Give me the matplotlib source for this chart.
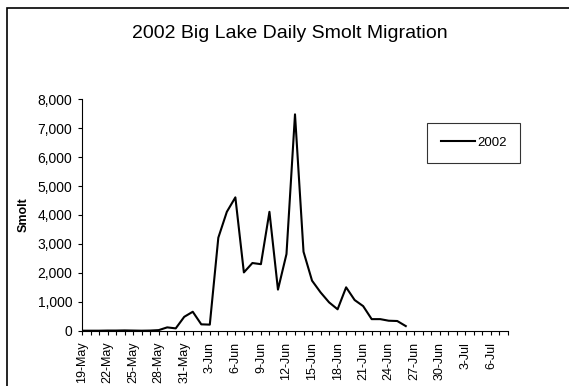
import numpy as np
import pandas as pd
import matplotlib
matplotlib.use("Agg")
import matplotlib.pyplot as plt
from matplotlib.patches import Rectangle
from matplotlib.ticker import FuncFormatter

plt.rcParams['font.family'] = ['Liberation Sans', 'DejaVu Sans']

# categories: one per day, 19-May to 8-Jul 2002
dates = pd.date_range("2002-05-19", "2002-07-08", freq="D")
date_labels = [f"{d.day}-{d.strftime('%b')}" for d in dates]

# daily smolt counts, 19-May .. 26-Jun
smolt_2002 = [0, 0, 0, 5, 5, 10, 5, 0, 5, 20,
              115, 80, 480, 655, 220, 210, 3215, 4110, 4610, 2015,
              2340, 2300, 4110, 1420, 2650, 7480, 2730, 1730, 1325, 980,
              740, 1500, 1060, 850, 400, 400, 345, 335, 160]

title = "2002 Big Lake Daily Smolt Migration"
series_name = "2002"
y_ticks = list(range(0, 8001, 1000))

W, H = 569, 386
fig = plt.figure(figsize=(W / 100, H / 100), dpi=100)
ax = fig.add_axes([82 / W, 1 - 330.7 / H, (508 - 82) / W, (330.7 - 99.3) / H])

x = np.arange(len(smolt_2002))
ax.plot(x, smolt_2002, color="black", lw=1.5, label=series_name)

ax.set_xlim(0, len(dates) - 1)
ax.set_ylim(0, 8000)
ax.set_xticks(np.arange(len(dates)))
ax.set_xticklabels([lab if i % 3 == 0 else "" for i, lab in enumerate(date_labels)],
                   rotation=90, fontsize=9)
ax.set_yticks(y_ticks)
ax.yaxis.set_major_formatter(FuncFormatter(lambda v, p: f"{int(v):,}"))
ax.tick_params(axis="both", direction="out", length=3, width=0.8)
ax.tick_params(axis="x", pad=5, labelsize=9)
ax.tick_params(axis="y", pad=4, labelsize=10)

for s in ["top", "right"]:
    ax.spines[s].set_visible(False)
for s in ["left", "bottom"]:
    ax.spines[s].set_linewidth(0.8)

fig.text(290 / W, 1 - 33 / H, title, ha="center", va="center", fontsize=14)
fig.text(23.5 / W, 1 - 215 / H, "Smolt", rotation=90, ha="center", va="center",
         fontsize=9, fontweight="bold")

leg = ax.legend(loc="upper left", bbox_to_anchor=(427 / W, 1 - 123 / H),
                bbox_transform=fig.transFigure, fontsize=9.5, frameon=True,
                fancybox=False, handlelength=2.6, handletextpad=0.15,
                borderpad=1.05, borderaxespad=0)
leg.get_frame().set_edgecolor("black")
leg.get_frame().set_linewidth(0.8)

# outer chart border (cropped at the right and bottom)
fig.patches.append(Rectangle((6.5 / W, -0.1), 1.2, 1 - 8 / H + 0.1,
                             transform=fig.transFigure, fill=False,
                             edgecolor="black", lw=1.2))

fig.savefig("out.png", dpi=100)
